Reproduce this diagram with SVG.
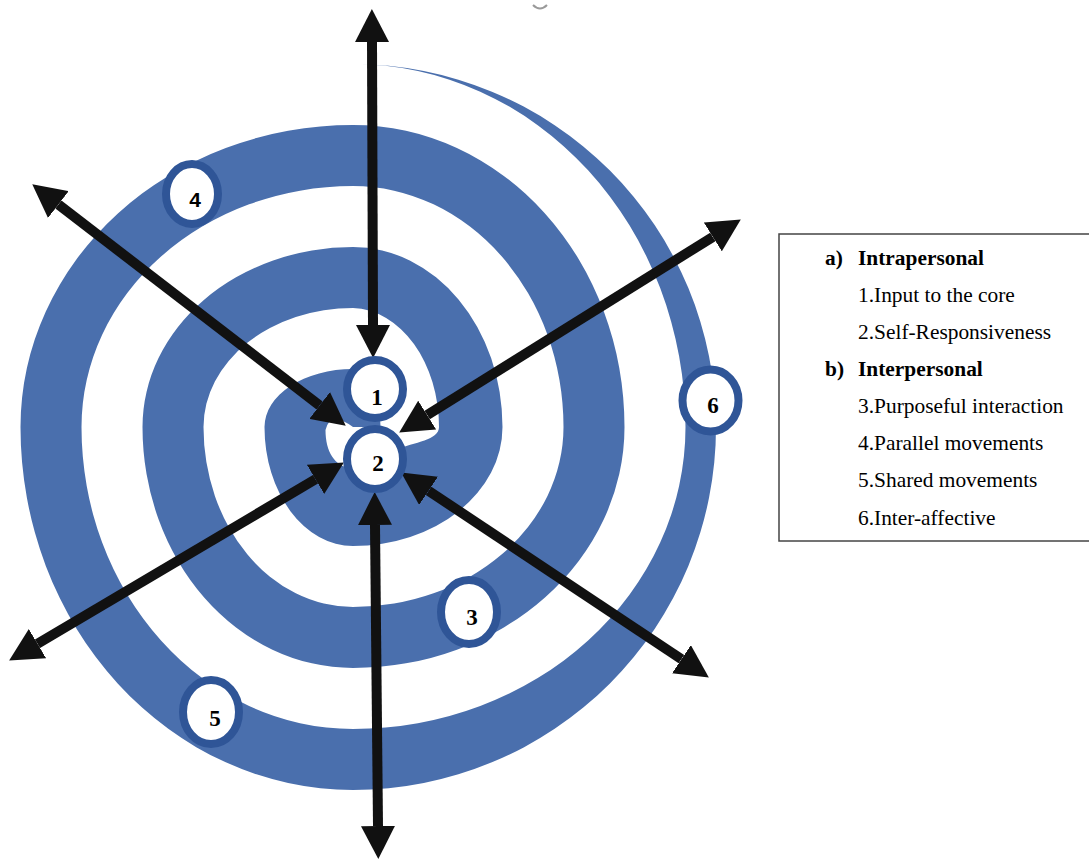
<svg xmlns="http://www.w3.org/2000/svg" width="1089" height="859" viewBox="0 0 1089 859">
  <style>
    .spiral { fill: #4A6FAD; }
    .ring { fill: #FFFFFF; stroke: #2F5597; stroke-width: 8; }
    .num { font-family: "Liberation Serif", "Times New Roman", serif; font-weight: bold; font-size: 23px; fill: #000; text-anchor: middle; }
    .numsans { font-family: "Liberation Sans", Arial, sans-serif; font-weight: bold; font-size: 21px; fill: #000; text-anchor: middle; }
    .arrow { stroke: #111; stroke-width: 10; fill: none; marker-start: url(#ah); marker-end: url(#ah); }
    .leg { font-family: "Liberation Serif", "Times New Roman", serif; font-size: 21.4px; fill: #000; }
    .legb { font-family: "Liberation Serif", "Times New Roman", serif; font-size: 21.4px; font-weight: bold; fill: #000; }
  </style>
  <defs>
    <marker id="ah" markerUnits="userSpaceOnUse" markerWidth="34" markerHeight="34" viewBox="0 0 34 34" refX="0" refY="17" orient="auto-start-reverse">
      <path d="M0,0 L33,17 L0,34 z" fill="#111"/>
    </marker>
  </defs>
  <rect width="1089" height="859" fill="#FFFFFF"/>
  <path d="M533 5 Q540 12 547 5" stroke="#9a9a9a" stroke-width="2" fill="none"/>

  <g id="spiral">
    <path class="spiral" d="M353 64
      A363 363 0 0 1 716 427
      A363 363 0 0 1 353 790
      A332.5 363 0 0 1 20.5 427
      A332.5 302 0 0 1 353 125
      A271.5 302 0 0 1 624.5 427
      A271.5 241 0 0 1 353 668
      A210.5 241 0 0 1 142.5 427
      A210.5 180 0 0 1 353 247
      A149.5 180 0 0 1 502.5 427
      A149.5 119 0 0 1 353 546
      A88.5 119 0 0 1 264.5 427
      A88.5 58 0 0 1 353 369
      A27.5 58 0 0 1 380.5 427
      L353 427
      Q330 410 325.5 430
      C325.5 452 335 466 350 468
      L395 450
      C415 442 439 440 439 427
      A88.5 119 0 0 0 353 308
      A149.5 119 0 0 0 203.5 427
      A149.5 180 0 0 0 353 607
      A210.5 180 0 0 0 563.5 427
      A210.5 241 0 0 0 353 186
      A271.5 241 0 0 0 81.5 427
      A271.5 302 0 0 0 353 729
      A332.5 302 0 0 0 685.5 427
      A332.5 363 0 0 0 353 64 Z"/>
  </g>

  <g id="connectors">
    <line class="arrow" x1="372" y1="42" x2="373" y2="325"/>
    <line class="arrow" x1="375" y1="525" x2="378" y2="826"/>
    <line class="arrow" x1="58.4" y1="204.5" x2="319.6" y2="405.5"/>
    <line class="arrow" x1="712.8" y1="236.9" x2="427.2" y2="415.1"/>
    <line class="arrow" x1="37.5" y1="643.7" x2="315.5" y2="479.3"/>
    <line class="arrow" x1="681.4" y1="659.2" x2="428.6" y2="490.8"/>
  </g>

  <g id="node-1">
    <ellipse class="ring" cx="375" cy="389" rx="28" ry="29"/>
    <text class="num" x="377" y="405">1</text>
  </g>
  <g id="node-2">
    <ellipse class="ring" cx="375" cy="459" rx="28" ry="30"/>
    <text class="num" x="378" y="471">2</text>
  </g>
  <g id="node-3">
    <ellipse class="ring" cx="469" cy="612" rx="28" ry="32"/>
    <text class="num" x="472" y="625">3</text>
  </g>
  <g id="node-4">
    <ellipse class="ring" cx="192" cy="194" rx="26" ry="30"/>
    <text class="numsans" x="195" y="207">4</text>
  </g>
  <g id="node-5">
    <ellipse class="ring" cx="211" cy="712" rx="28" ry="32"/>
    <text class="num" x="215" y="726">5</text>
  </g>
  <g id="node-6">
    <ellipse class="ring" cx="710.5" cy="400.5" rx="28" ry="31"/>
    <text class="num" x="713" y="413">6</text>
  </g>

  <g id="legend">
    <rect x="779" y="234" width="320" height="307" fill="#FFFFFF" stroke="#444" stroke-width="1.5"/>
    <text class="legb" x="825" y="265">a)</text>
    <text class="legb" x="858" y="265">Intrapersonal</text>
    <text class="leg" x="858" y="302">1.Input to the core</text>
    <text class="leg" x="858" y="339">2.Self-Responsiveness</text>
    <text class="legb" x="825" y="376">b)</text>
    <text class="legb" x="858" y="376">Interpersonal</text>
    <text class="leg" x="858" y="413">3.Purposeful interaction</text>
    <text class="leg" x="858" y="450">4.Parallel movements</text>
    <text class="leg" x="858" y="487">5.Shared movements</text>
    <text class="leg" x="858" y="525">6.Inter-affective</text>
  </g>
</svg>
